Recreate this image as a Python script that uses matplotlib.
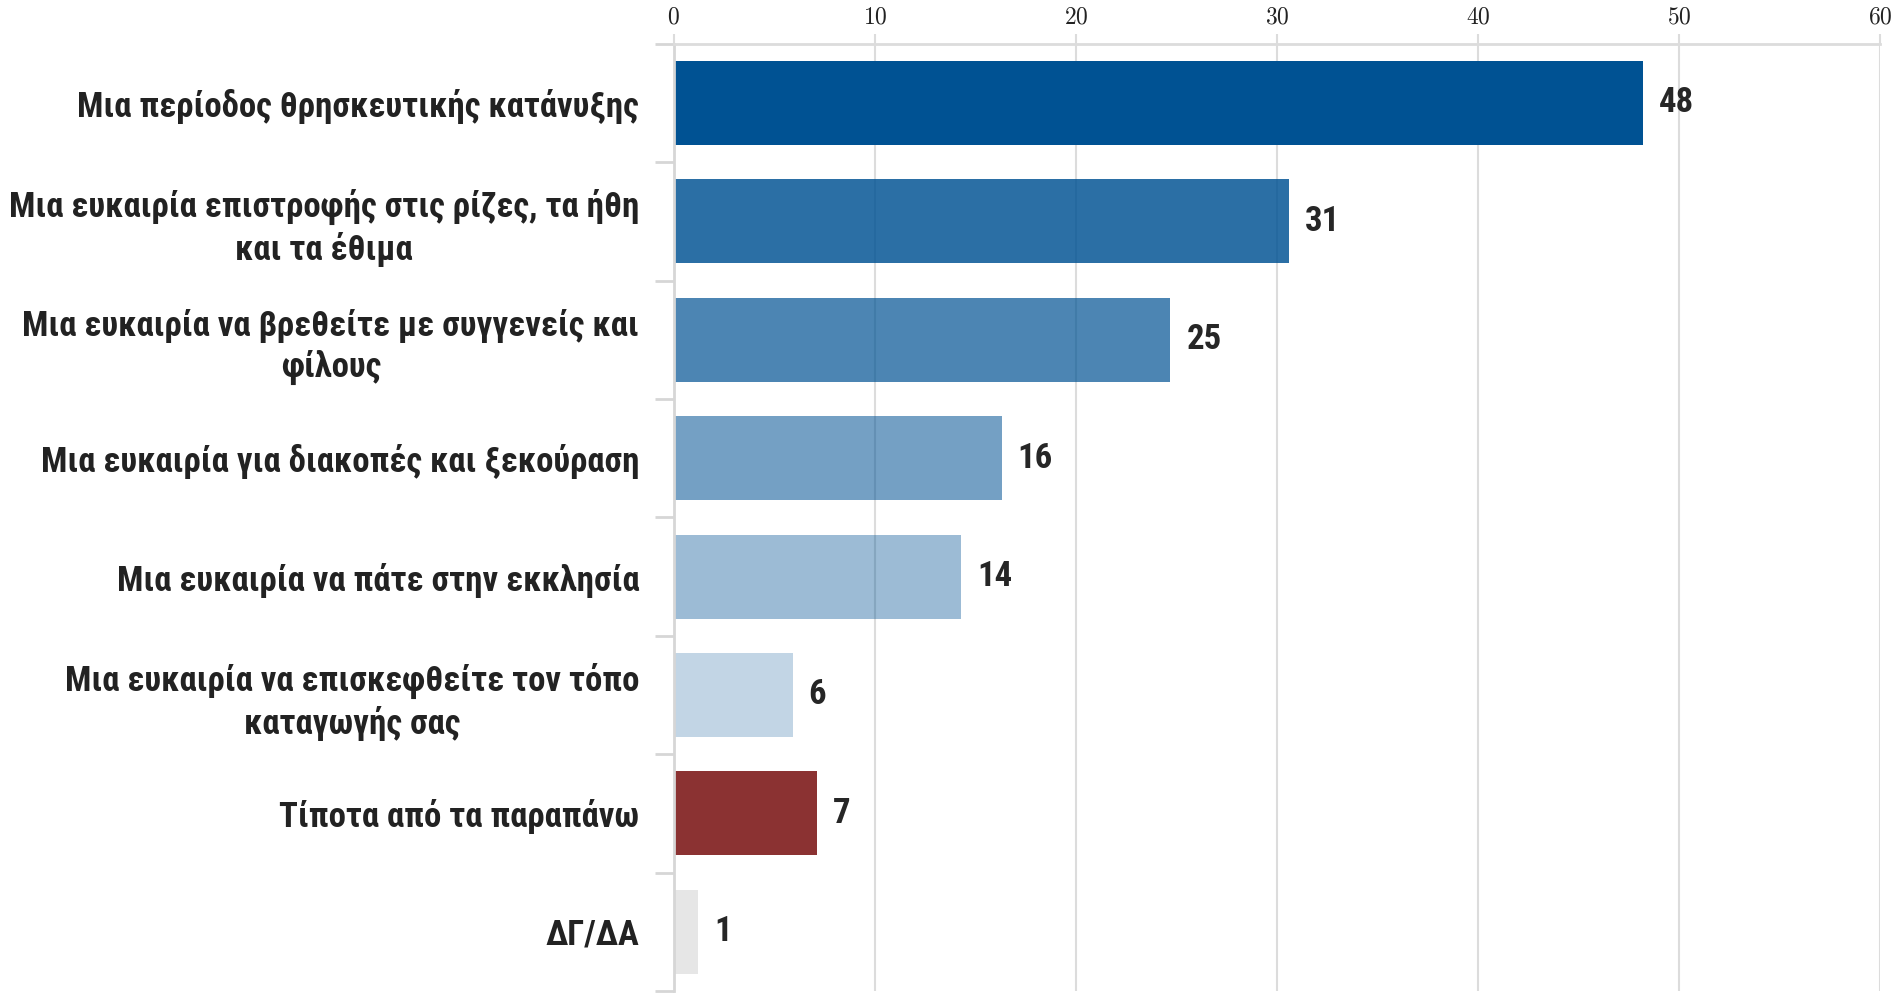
import matplotlib
matplotlib.use('Agg')
import matplotlib.pyplot as plt
from matplotlib import font_manager
from matplotlib.ticker import FixedLocator

# data
labels = ['Μια περίοδος θρησκευτικής κατάνυξης',
          'Μια ευκαιρία επιστροφής στις ρίζες, τα ήθη\nκαι τα έθιμα',
          'Μια ευκαιρία να βρεθείτε με συγγενείς και\nφίλους',
          'Μια ευκαιρία για διακοπές και ξεκούραση',
          'Μια ευκαιρία να πάτε στην εκκλησία',
          'Μια ευκαιρία να επισκεφθείτε τον τόπο\nκαταγωγής σας',
          'Τίποτα από τα παραπάνω',
          'ΔΓ/ΔΑ']
values = [48.2, 30.6, 24.7, 16.3, 14.3, 5.9, 7.1, 1.2]
value_text = ['48', '31', '25', '16', '14', '6', '7', '1']
xticks = [0, 10, 20, 30, 40, 50, 60]

alphas = [1.0, 0.83, 0.70, 0.545, 0.39, 0.24]
colors = [(0.0, 0.322, 0.576, a) for a in alphas] + ['#8b3232', '#e6e6e6']

names = {f.name for f in font_manager.fontManager.ttflist}
fam = 'DejaVu Sans'
for cand in ['Roboto Condensed', 'Open Sans Condensed', 'IBM Plex Sans Condensed', 'Liberation Sans Narrow']:
    if cand in names:
        fam = cand
        break
plt.rcParams['font.family'] = [fam, 'DejaVu Sans']
plt.rcParams['mathtext.fontset'] = 'cm'

fig = plt.figure(figsize=(19.01, 9.93), dpi=100)
ax = fig.add_axes([0.3545, 0.002, 0.6345, 0.954])

ypos = list(range(len(values)))
ax.set_axisbelow(True)
ax.grid(axis='x', color='#dcdcdc', linewidth=1.5)
ax.barh(ypos, values, height=0.71, color=colors)

for y, v, t in zip(ypos, values, value_text):
    ax.text(v + 0.8, y, t, va='center', ha='left', fontsize=25,
            fontweight='bold', color='#262626')

ax.set_xlim(0, 60)
ax.set_ylim(7.5, -0.5)
ax.xaxis.tick_top()
ax.set_xticks(xticks)
ax.set_xticklabels(['$%d$' % t for t in xticks], fontsize=17)
ax.tick_params(axis='x', length=7, width=1.5, color='#dcdcdc', pad=4, labelcolor='#222222')

ax.set_yticks(ypos)
ax.set_yticklabels(labels, fontsize=25, fontweight='bold', color='#222222', linespacing=1.25)
for lbl in ax.get_yticklabels():
    lbl.set_multialignment('center')
ax.tick_params(axis='y', which='major', length=0, pad=25)
ax.yaxis.set_minor_locator(FixedLocator([i - 0.5 for i in range(len(values) + 1)]))
ax.tick_params(axis='y', which='minor', length=14, width=2, color='#d6d6d6')

for s in ['right', 'bottom']:
    ax.spines[s].set_visible(False)
ax.spines['left'].set_color('#d6d6d6')
ax.spines['left'].set_linewidth(2)
ax.spines['top'].set_color('#dcdcdc')
ax.spines['top'].set_linewidth(2)

plt.savefig('out.png', dpi=100)
